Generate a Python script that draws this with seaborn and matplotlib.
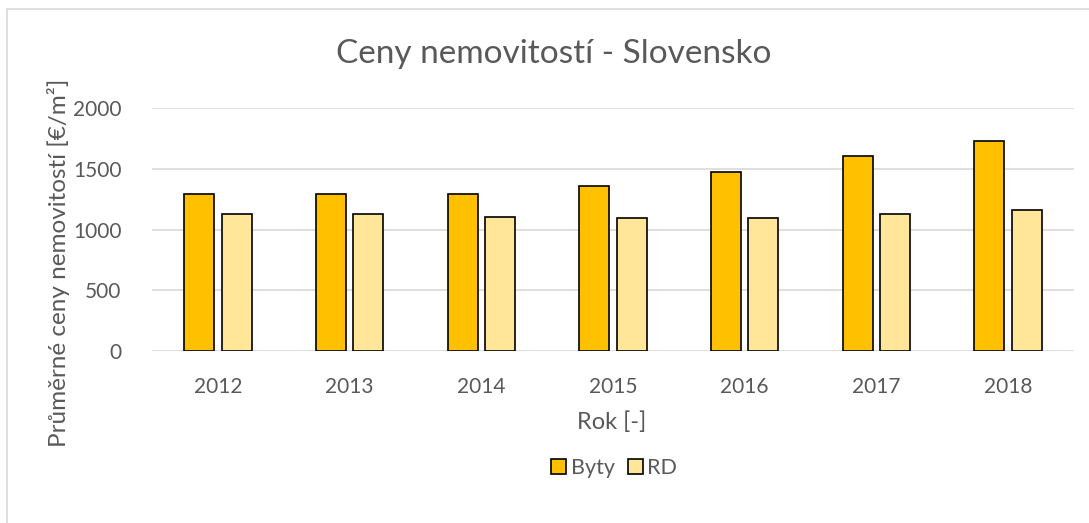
import matplotlib
matplotlib.use("Agg")
import matplotlib.pyplot as plt
from matplotlib.patches import Patch
from matplotlib.lines import Line2D
import seaborn as sns
import pandas as pd

years = ["2012", "2013", "2014", "2015", "2016", "2017", "2018"]
byty = [1295, 1291, 1294, 1354, 1470, 1602, 1728]
rd = [1129, 1124, 1104, 1091, 1092, 1124, 1162]
series = ["Byty", "RD"]
colors = ["#FFC000", "#FFE699"]

df = pd.DataFrame({
    "rok": years * 2,
    "cena": byty + rd,
    "typ": [series[0]] * len(years) + [series[1]] * len(years),
})

sns.set_theme(style="white")
plt.rcParams["font.family"] = ["Lato", "DejaVu Sans"]
text_col = "#595959"
grid_col = "#D9D9D9"

W, H = 1089, 523
fig = plt.figure(figsize=(W / 100, H / 100), dpi=100)
ax = fig.add_axes([152 / W, 1 - 351 / H, (1074 - 152) / W, (351 - 108) / H])

sns.barplot(data=df, x="rok", y="cena", hue="typ", palette=colors, saturation=1,
            width=0.569, gap=0.2, edgecolor="black", linewidth=1.2,
            legend=False, ax=ax, zorder=3)

ax.set_ylim(0, 2000)
ax.set_yticks([0, 500, 1000, 1500, 2000])
ax.yaxis.grid(True, color=grid_col, linewidth=1.2, zorder=0)
ax.set_axisbelow(True)
for s in ax.spines.values():
    s.set_visible(False)
ax.tick_params(axis="both", length=0, labelsize=15, labelcolor=text_col)
ax.tick_params(axis="x", pad=19)
ax.tick_params(axis="y", pad=22)
ax.set_xlabel("")
ax.set_ylabel("")

fig.text(554 / W, 1 - 54 / H, "Ceny nemovitostí - Slovensko",
         ha="center", va="center", fontsize=24, color=text_col)
fig.text(59 / W, 1 - 263 / H, "Průměrné ceny nemovitostí [€/m²]", rotation=90,
         ha="center", va="center", fontsize=17.5, color=text_col)
fig.text(612 / W, 1 - 422 / H, "Rok [-]", ha="center", va="center",
         fontsize=17, color=text_col)

handles = [Patch(facecolor=c, edgecolor="black", linewidth=1.2) for c in colors]
leg = fig.legend(handles, series, loc="center", bbox_to_anchor=(614 / W, 1 - 468 / H),
                 ncol=2, frameon=False, fontsize=15.5, handlelength=0.7, handleheight=0.7,
                 handletextpad=0.2, columnspacing=0.6, labelcolor=text_col)

# outer chart frame
fig.add_artist(Line2D([7 / W, 7 / W], [0, 1 - 9 / H], color=grid_col, linewidth=1.2))
fig.add_artist(Line2D([7 / W, 1], [1 - 9 / H, 1 - 9 / H], color=grid_col, linewidth=1.2))

fig.savefig("out.png", dpi=100, facecolor="white")
